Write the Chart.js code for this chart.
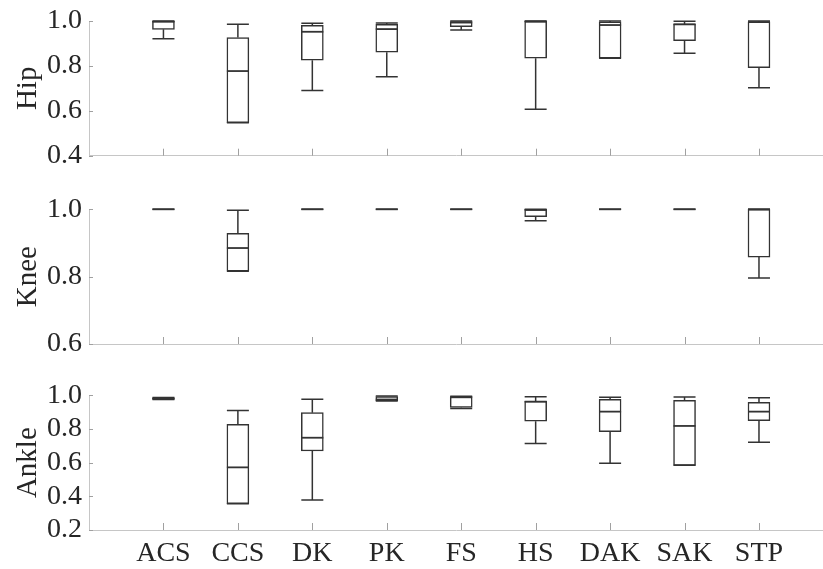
<!DOCTYPE html>
<html><head><meta charset="utf-8">
<script src="https://cdn.jsdelivr.net/npm/chart.js@4.4.1/dist/chart.umd.min.js"></script>
<style>
html,body{margin:0;padding:0;background:#fff;}
#wrap{position:relative;width:823px;height:569px;overflow:hidden;}
canvas{position:absolute;left:0;}
.pre{font-family:'Liberation Serif';position:absolute;left:-999px;top:0;}
</style></head><body>
<span class="pre">ACS 1.0</span>
<div id="wrap">
<canvas id="c1" width="823" height="187" style="top:0px"></canvas>
<canvas id="c2" width="823" height="187" style="top:187px"></canvas>
<canvas id="c3" width="823" height="195" style="top:374px"></canvas>
</div>
<script>
const categories = ['ACS','CCS','DK','PK','FS','HS','DAK','SAK','STP'];

// Hip
const hipLow  = [0.921, 0.547, 0.690, 0.752, 0.960, 0.607, 0.834, 0.856, 0.703];
const hipQ1   = [0.963, 0.547, 0.825, 0.861, 0.975, 0.834, 0.834, 0.912, 0.792];
const hipMed  = [0.997, 0.777, 0.952, 0.964, 0.993, 0.998, 0.982, 0.985, 0.995];
const hipQ3   = [1.000, 0.926, 0.981, 0.985, 0.997, 0.998, 0.996, 0.987, 0.996];
const hipHigh = [1.000, 0.985, 0.990, 0.991, 1.000, 1.000, 1.000, 0.999, 1.000];
const hipTicks = [0.4, 0.6, 0.8, 1.0];

// Knee
const kneeLow  = [1.000, 0.816, 1.000, 1.000, 1.000, 0.966, 1.000, 1.000, 0.796];
const kneeQ1   = [1.000, 0.816, 1.000, 1.000, 1.000, 0.978, 1.000, 1.000, 0.858];
const kneeMed  = [1.000, 0.885, 1.000, 1.000, 1.000, 0.998, 1.000, 1.000, 1.000];
const kneeQ3   = [1.000, 0.929, 1.000, 1.000, 1.000, 1.000, 1.000, 1.000, 1.000];
const kneeHigh = [1.000, 0.997, 1.000, 1.000, 1.000, 1.000, 1.000, 1.000, 1.000];
const kneeTicks = [0.6, 0.8, 1.0];

// Ankle
const ankleLow  = [0.975, 0.356, 0.378, 0.966, 0.922, 0.713, 0.596, 0.584, 0.721];
const ankleQ1   = [0.977, 0.356, 0.669, 0.968, 0.928, 0.846, 0.784, 0.584, 0.849];
const ankleMed  = [0.980, 0.572, 0.748, 0.975, 0.990, 0.962, 0.903, 0.818, 0.903];
const ankleQ3   = [0.985, 0.828, 0.897, 0.993, 0.990, 0.966, 0.976, 0.970, 0.958];
const ankleHigh = [0.987, 0.909, 0.976, 0.996, 0.995, 0.992, 0.988, 0.990, 0.986];
const ankleTicks = [0.2, 0.4, 0.6, 0.8, 1.0];

const FONT = "'Liberation Serif', 'Times New Roman', Times, serif";
const TEXT = '#262626';
const LINE = '#333333';
const AXIS = '#c6c6c6';
const BOXW = 22;

const boxPlugin = {
  id: 'boxExtras',
  afterDatasetsDraw(chart, args, opts) {
    const ctx = chart.ctx;
    const xs = chart.scales.x, ys = chart.scales.y;
    const area = chart.chartArea;
    ctx.save();
    ctx.strokeStyle = '#a0a0a0';
    ctx.lineWidth = 1;
    categories.forEach((c, i) => {
      const x = Math.round(xs.getPixelForValue(i + 1)) + 0.5;
      ctx.beginPath();
      ctx.moveTo(x, area.bottom);
      ctx.lineTo(x, area.bottom - 7);
      ctx.stroke();
    });
    opts.ticks.forEach(t => {
      const y = Math.round(ys.getPixelForValue(t)) + 0.5;
      ctx.beginPath();
      ctx.moveTo(area.left, y);
      ctx.lineTo(area.left + 4, y);
      ctx.stroke();
    });
    ctx.strokeStyle = LINE;
    ctx.lineWidth = 1.5;
    categories.forEach((c, i) => {
      const x = xs.getPixelForValue(i + 1);
      const h = BOXW / 2;
      const yLo = ys.getPixelForValue(opts.low[i]);
      const yQ1 = ys.getPixelForValue(opts.q1[i]);
      const yQ3 = ys.getPixelForValue(opts.q3[i]);
      const yHi = ys.getPixelForValue(opts.high[i]);
      const yMed = ys.getPixelForValue(opts.med[i]);
      ctx.beginPath();
      ctx.moveTo(x, yQ3); ctx.lineTo(x, yHi);
      ctx.moveTo(x, yQ1); ctx.lineTo(x, yLo);
      ctx.moveTo(x - h, yHi); ctx.lineTo(x + h, yHi);
      ctx.moveTo(x - h, yLo); ctx.lineTo(x + h, yLo);
      ctx.stroke();
      ctx.save();
      ctx.lineWidth = 1.8;
      ctx.beginPath();
      ctx.moveTo(x - h, yMed); ctx.lineTo(x + h, yMed);
      ctx.stroke();
      ctx.restore();
    });
    ctx.restore();
  }
};

function makePanel(id, title, ticks, low, q1, med, q3, high, showLabels, padTop, xHeight) {
  new Chart(document.getElementById(id), {
    type: 'bar',
    data: {
      datasets: [{
        data: categories.map((c, i) => ({ x: i + 1, y: [q1[i], q3[i]] })),
        backgroundColor: '#ffffff',
        borderColor: LINE,
        borderWidth: 1.5,
        borderSkipped: false,
        barThickness: BOXW
      }]
    },
    options: {
      responsive: false,
      animation: false,
      events: [],
      layout: { padding: { top: padTop, bottom: 0, left: 0, right: 0 } },
      plugins: {
        legend: { display: false },
        tooltip: { enabled: false },
        boxExtras: { low, q1, med, q3, high, ticks }
      },
      scales: {
        x: {
          type: 'linear',
          offset: false,
          min: 0, max: 9.86,
          afterBuildTicks: s => { s.ticks = categories.map((c, i) => ({ value: i + 1 })); },
          afterFit: s => { s.height = xHeight; s.paddingLeft = 0; s.paddingRight = 0; },
          grid: { display: false, drawTicks: false, offset: false },
          border: { display: true, color: AXIS, width: 1 },
          ticks: {
            display: showLabels,
            autoSkip: false,
            maxRotation: 0,
            padding: 7,
            color: TEXT,
            font: { family: FONT, size: 28 },
            callback: (v, idx) => categories[idx]
          }
        },
        y: {
          type: 'linear',
          min: ticks[0], max: ticks[ticks.length - 1],
          afterBuildTicks: s => { s.ticks = ticks.map(v => ({ value: v })); },
          afterFit: s => { s.width = 89; s.paddingTop = 0; s.paddingBottom = 0; },
          grid: { display: false, drawTicks: false },
          border: { display: true, color: AXIS, width: 1 },
          ticks: {
            autoSkip: false,
            padding: 7,
            color: TEXT,
            font: { family: FONT, size: 28 },
            callback: v => Number(v).toFixed(1)
          },
          title: {
            display: true,
            text: title,
            color: TEXT,
            font: { family: FONT, size: 29 },
            padding: { top: 11, bottom: 0 }
          }
        }
      }
    },
    plugins: [boxPlugin]
  });
}

function drawAll() {
  makePanel('c1', 'Hip', hipTicks, hipLow, hipQ1, hipMed, hipQ3, hipHigh, false, 21, 31.3);
  makePanel('c2', 'Knee', kneeTicks, kneeLow, kneeQ1, kneeMed, kneeQ3, kneeHigh, false, 22.3, 30);
  makePanel('c3', 'Ankle', ankleTicks, ankleLow, ankleQ1, ankleMed, ankleQ3, ankleHigh, true, 21.3, 39);
}
if (document.fonts && document.fonts.load) {
  document.fonts.load("28px 'Liberation Serif'").then(drawAll, drawAll);
} else {
  drawAll();
}
</script>
</body></html>
